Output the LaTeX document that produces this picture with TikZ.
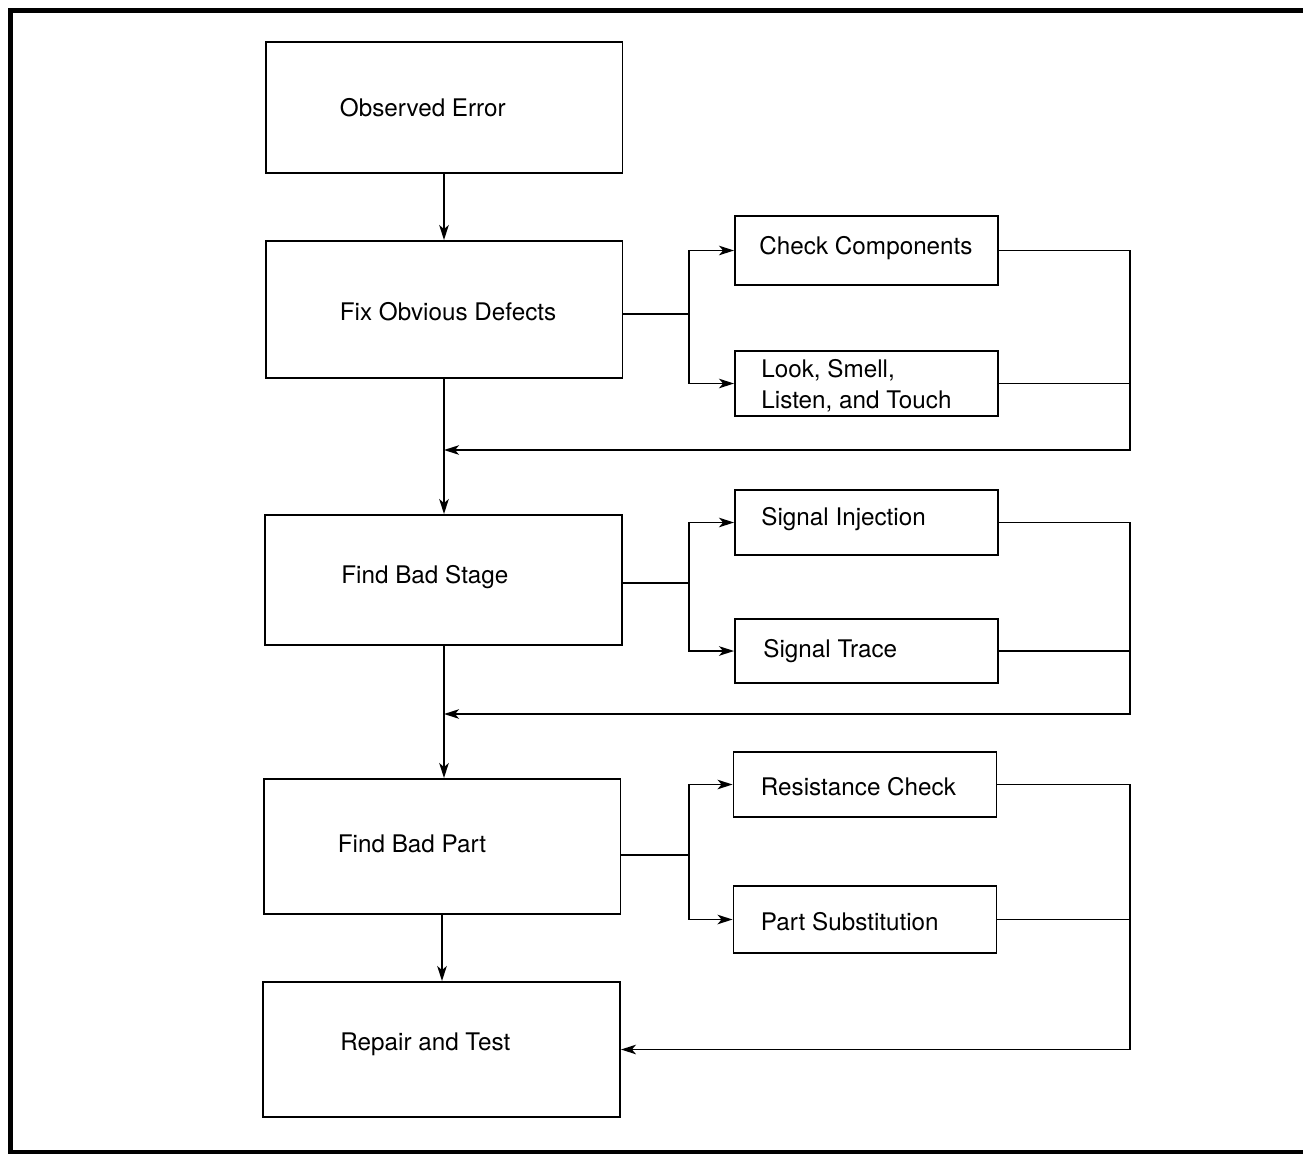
\documentclass[tikz,border=0pt]{standalone}
\usepackage{fontspec}
\setmainfont{TeX Gyre Heros}
\usetikzlibrary{arrows.meta, calc}

\begin{document}
\begin{tikzpicture}[
  x=0.02cm, y=-0.02cm,
  mainbox/.style={rectangle, draw, line width=1.1pt, minimum width=7.14cm,
    minimum height=2.68cm, inner sep=0pt},
  sidebox/.style={rectangle, draw, line width=1.1pt, minimum width=5.26cm,
    minimum height=1.32cm, inner sep=0pt},
  boxtext/.style={anchor=west, inner sep=0pt, align=left,
    font=\fontsize{13.8}{17.6}\selectfont},
  wire/.style={line width=1pt},
  arr/.style={-{Stealth[length=0.3cm, width=0.19cm, inset=0.08cm]}, line width=1pt}
]
  \useasboundingbox (0,0) rectangle (1303,1154);

  %% outer frame
  \draw[line width=2.3pt] (1320,10.5) -- (10.5,10.5) -- (10.5,1152.5) -- (1320,1152.5);

  %% main column
  \node[mainbox, minimum height=2.62cm] (obs) at (444,107.5) {};
  \node[mainbox, minimum height=2.74cm] (fix) at (444,309.5) {};
  \node[mainbox, minimum height=2.60cm] (stage) at (443.5,580) {};
  \node[mainbox, minimum height=2.70cm] (part) at (442,846.5) {};
  \node[mainbox, minimum height=2.70cm] (repair) at (441.5,1049.5) {};

  \node[boxtext] (obs-t) at ([xshift=1.5cm]obs.west) {Observed Error};
  \node[boxtext] (fix-t) at ([xshift=1.5cm, yshift=-0.04cm]fix.west) {Fix Obvious Defects};
  \node[boxtext] (stage-t) at ([xshift=1.54cm, yshift=0.06cm]stage.west) {Find Bad Stage};
  \node[boxtext] (part-t) at ([xshift=1.5cm, yshift=0.06cm]part.west) {Find Bad Part};
  \node[boxtext] (repair-t) at ([xshift=1.56cm, yshift=0.1cm]repair.west) {Repair and Test};

  %% side checks
  \node[sidebox, minimum height=1.38cm] (check) at (866.5,250.5) {};
  \node[sidebox, minimum height=1.30cm] (look) at (866.5,383.5) {};
  \node[sidebox, minimum height=1.30cm] (inject) at (866.5,522.5) {};
  \node[sidebox, minimum height=1.28cm] (trace) at (866.5,651) {};
  \node[sidebox, minimum height=1.30cm] (resist) at (865,784.5) {};
  \node[sidebox, minimum height=1.34cm] (subst) at (865,919.5) {};

  \node[boxtext] (check-t) at ([xshift=0.5cm, yshift=0.04cm]check.west) {Check Components};
  \node[boxtext] (look-t) at ([xshift=0.54cm, yshift=-0.04cm]look.west) {Look, Smell,\\Listen, and Touch};
  \node[boxtext] (inject-t) at ([xshift=0.54cm, yshift=0.06cm]inject.west) {Signal Injection};
  \node[boxtext] (trace-t) at ([xshift=0.58cm]trace.west) {Signal Trace};
  \node[boxtext] (resist-t) at ([xshift=0.56cm, yshift=-0.04cm]resist.west) {Resistance Check};
  \node[boxtext] (subst-t) at ([xshift=0.56cm, yshift=-0.04cm]subst.west) {Part Substitution};

  %% branch and return points
  \coordinate (fork1) at (689,314);
  \coordinate (fork2) at (689,583);
  \coordinate (fork3) at (689,855);
  \coordinate (retx) at (1130,0);
  \coordinate (join1) at (444,450);
  \coordinate (join2) at (444,714);

  %% main flow
  \draw[arr] (obs.south) -- (obs.south |- fix.north);
  \draw[arr] (fix.south) -- (fix.south |- stage.north);
  \draw[arr] (stage.south -| join2) -- (join2 |- part.north);
  \draw[arr] (part.south) -- (part.south |- repair.north);

  %% forks to side checks
  \draw[wire] (fix.east |- fork1) -- (fork1);
  \draw[arr] (fork1) |- (check.west);
  \draw[arr] (fork1) |- (look.west);
  \draw[wire] (stage.east |- fork2) -- (fork2);
  \draw[arr] (fork2) |- (inject.west);
  \draw[arr] (fork2) |- (trace.west);
  \draw[wire] (part.east |- fork3) -- (fork3);
  \draw[arr] (fork3) |- (resist.west);
  \draw[arr] (fork3) |- (subst.west);

  %% returns
  \draw[arr] (check.east) -| (join1 -| retx) -- (join1);
  \draw[wire] (look.east) -- (look.east -| retx);
  \draw[arr] (inject.east) -| (join2 -| retx) -- (join2);
  \draw[wire] (trace.east) -- (trace.east -| retx);
  \draw[arr] (resist.east) -| (repair.east -| retx) -- (repair.east);
  \draw[wire] (subst.east) -- (subst.east -| retx);
\end{tikzpicture}
\end{document}
